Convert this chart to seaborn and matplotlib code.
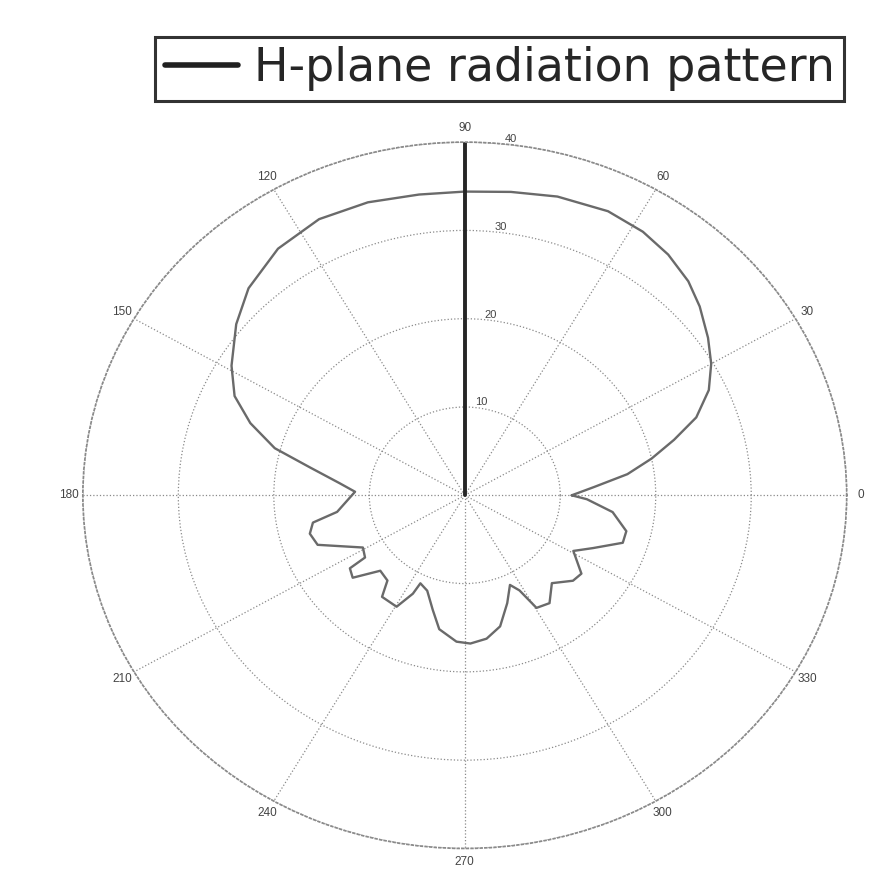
import numpy as np
import pandas as pd
import matplotlib
matplotlib.use("Agg")
import matplotlib.pyplot as plt
import seaborn as sns

# H-plane pattern (angle in degrees, radius on 0-40 scale)
angle_deg = [0, 4, 8, 12, 16, 20, 25, 30, 35, 41, 46, 52, 58, 65, 74, 82, 90,
             98, 107, 116, 125, 134, 141, 149, 155, 160, 165, 169, 174, 178,
             188, 191, 195, 200, 209, 214, 214.5, 218.5, 224, 230, 233, 240.5,
             244, 245, 250, 255.5, 260, 267, 272, 278, 284, 290, 295, 298,
             300.5, 306, 312.5, 319.5, 324, 331, 336, 342, 346.5, 353, 358, 360]
gain = [11.2, 13.6, 17.2, 20.0, 22.8, 25.8, 28.2, 29.8, 31.1, 32.6, 33.7, 34.6,
        35.2, 35.5, 35.2, 34.7, 34.4, 34.4, 34.7, 34.8, 34.1, 32.6, 30.8, 28.5,
        26.6, 23.9, 20.6, 16.5, 13.2, 11.5,
        13.5, 16.2, 16.8, 16.4, 12.2, 12.6, 14.6, 15.0, 12.3, 12.6, 14.4, 14.5,
        12.4, 11.0, 11.5, 13.4, 15.4, 16.6, 16.8, 16.4, 15.3, 13.0, 11.2, 12.2,
        14.8, 15.1, 13.5, 14.9, 15.1, 13.0, 14.7, 17.4, 17.4, 15.6, 12.8, 11.2]

# the vertical marker line at 90 deg
marker_angle = [90, 90]
marker_r = [0, 40]

theta_ticks = list(range(0, 360, 30))
theta_labels = [str(t) for t in theta_ticks]
r_ticks = [10, 20, 30, 40]
r_labels = ["10", "20", "30", "40"]

df = pd.DataFrame({"theta": np.deg2rad(angle_deg), "r": gain})
mk = pd.DataFrame({"theta": np.deg2rad(marker_angle), "r": marker_r})

sns.set_theme(style="white")
plt.rcParams["font.family"] = ["Liberation Sans", "DejaVu Sans"]

fig = plt.figure(figsize=(8.72, 8.72), dpi=100)
# scan is a bit wider than tall, so let the polar axes stretch
ax = fig.add_axes([0.095, 0.027, 0.876, 0.810], projection="polar")
ax.set_aspect("auto")

sns.lineplot(data=df, x="theta", y="r", sort=False, estimator=None, ax=ax,
             color="#6a6a6a", linewidth=1.7, legend=False)
sns.lineplot(data=mk, x="theta", y="r", sort=False, estimator=None, ax=ax,
             color="#262626", linewidth=2.8, legend=False)

ax.set_ylim(0, 40)
ax.set_rticks(r_ticks)
ax.set_yticklabels(r_labels, fontsize=8, color="#444444")
ax.set_rlabel_position(84)
ax.set_thetagrids(theta_ticks, theta_labels, fontsize=8.5, color="#444444")
ax.tick_params(axis="x", pad=-3)
ax.grid(True, linestyle=":", color="#8a8a8a", linewidth=0.9)
ax.spines["polar"].set_linestyle(":")
ax.spines["polar"].set_color("#8a8a8a")
ax.set_xlabel("")
ax.set_ylabel("")

leg = fig.legend(handles=ax.get_lines()[:1], labels=["H-plane radiation pattern"],
                 loc="center", bbox_to_anchor=(0.573, 0.921),
                 prop={"family": "DejaVu Sans", "size": 33},
                 fancybox=False, framealpha=1, edgecolor="#333333",
                 handlelength=1.6, handletextpad=0.35, borderpad=0.2)
leg.get_frame().set_linewidth(2.2)
for ln in leg.get_lines():
    ln.set_color("#202020")
    ln.set_linewidth(4)

fig.savefig("out.png", dpi=100)
